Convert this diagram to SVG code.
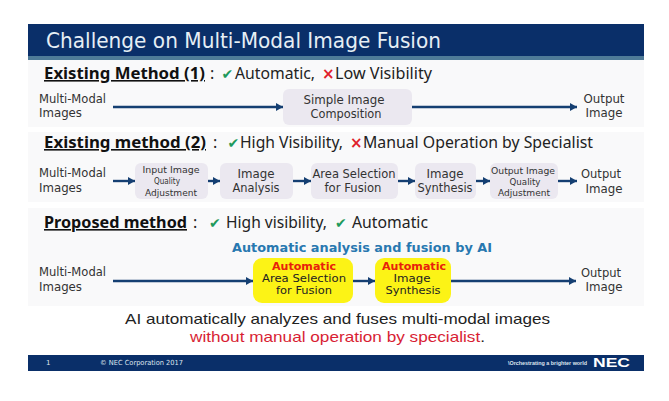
<svg xmlns="http://www.w3.org/2000/svg" width="669" height="401" viewBox="0 0 669 401">
<defs>
<marker id="ah" markerUnits="userSpaceOnUse" markerWidth="8" markerHeight="8" refX="7" refY="4" orient="auto"><path d="M0 0L7 4L0 8z" fill="#153f72"/></marker>
</defs>
<style>
text{font-family:"DejaVu Sans",Verdana,sans-serif;fill:#222}
.h{font-family:"Noto Sans",sans-serif;font-size:16px;font-weight:bold;text-decoration:underline;fill:#111}
.s{font-family:"Noto Sans",sans-serif;font-size:16px}
.sum{font-family:"Liberation Sans",sans-serif;font-size:15px}
.l{font-size:12px;fill:#333}
.m{font-size:12px;text-anchor:middle;fill:#333}
.y2{font-size:10.3px;text-anchor:middle;fill:#222}
.t{font-size:9.5px;text-anchor:middle;fill:#333}
.ok{font-size:14px;fill:#1f9a5c}
.no{font-size:15px;font-weight:bold;fill:#e0202a}
.n{fill:#ebe8f0}
.y{fill:#fcf316}
.r{font-size:10.3px;font-weight:bold;text-anchor:middle;fill:#e8200c}
.c line{stroke:#153f72;stroke-width:2.4;marker-end:url(#ah)}
.band{fill:#f9f9fa}
</style>
<rect width="669" height="401" fill="#fff"/>
<g id="header">
<rect x="28" y="24" width="616" height="32" fill="#0a2f69"/>
<rect x="28" y="56" width="616" height="4" fill="#4f7b98"/>
<text x="46" y="48" font-size="21.5" textLength="395" lengthAdjust="spacingAndGlyphs" style="fill:#e6eef5">Challenge on Multi-Modal Image Fusion</text>
</g>
<rect class="band" x="28" y="60" width="616" height="67"/>
<rect class="band" x="28" y="132" width="616" height="70"/>
<rect class="band" x="28" y="208" width="616" height="98"/>
<g id="row1-heading">
<text class="h" x="44" y="79" textLength="161" lengthAdjust="spacingAndGlyphs">Existing Method (1)</text>
<text class="s" x="210" y="79">:</text>
<text class="ok" x="221.5" y="79">✔</text>
<text class="s" x="235" y="79" textLength="80" lengthAdjust="spacingAndGlyphs">Automatic,</text>
<text class="no" x="322" y="79">×</text>
<text class="s" x="335" y="79" textLength="97" lengthAdjust="spacingAndGlyphs">Low Visibility</text>
</g>
<g id="row2-heading">
<text class="h" x="44" y="148" textLength="162" lengthAdjust="spacingAndGlyphs">Existing method (2)</text>
<text class="s" x="213" y="148">:</text>
<text class="ok" x="227.5" y="148">✔</text>
<text class="s" x="240" y="148" textLength="103" lengthAdjust="spacingAndGlyphs">High Visibility,</text>
<text class="no" x="350" y="148">×</text>
<text class="s" x="363" y="148" textLength="230" lengthAdjust="spacingAndGlyphs">Manual Operation by Specialist</text>
</g>
<g id="row3-heading">
<text class="h" x="44" y="228" textLength="143" lengthAdjust="spacingAndGlyphs">Proposed method</text>
<text class="s" x="193" y="228">:</text>
<text class="ok" x="209" y="228">✔</text>
<text class="s" x="226" y="228" textLength="101" lengthAdjust="spacingAndGlyphs">High visibility,</text>
<text class="ok" x="335" y="228">✔</text>
<text class="s" x="352" y="228" textLength="76" lengthAdjust="spacingAndGlyphs">Automatic</text>
<text x="232" y="252" font-size="13" font-weight="bold" textLength="260" lengthAdjust="spacingAndGlyphs" style="fill:#2878b0">Automatic analysis and fusion by AI</text>
</g>
<g class="c" id="connectors">
<line x1="113" y1="107" x2="283" y2="107"/>
<line x1="412" y1="107" x2="577" y2="107"/>
<line x1="113" y1="181" x2="135" y2="181"/>
<line x1="208" y1="181" x2="220" y2="181"/>
<line x1="293" y1="181" x2="311" y2="181"/>
<line x1="398" y1="181" x2="415" y2="181"/>
<line x1="476" y1="181" x2="490" y2="181"/>
<line x1="558" y1="181" x2="577" y2="181"/>
<line x1="113" y1="281" x2="253" y2="281"/>
<line x1="353" y1="281" x2="375" y2="281"/>
<line x1="451" y1="281" x2="576" y2="281"/>
</g>
<g id="in1"><text class="l" x="39" y="103" textLength="67" lengthAdjust="spacingAndGlyphs">Multi-Modal</text><text class="l" x="39" y="117" textLength="43" lengthAdjust="spacingAndGlyphs">Images</text></g>
<g id="n1"><rect class="n" x="283" y="89" width="129" height="36" rx="6"/><text class="m" x="344" y="104" textLength="81" lengthAdjust="spacingAndGlyphs">Simple Image</text><text class="m" x="346" y="118" textLength="71" lengthAdjust="spacingAndGlyphs">Composition</text></g>
<g id="out1"><text class="m" x="604" y="103" textLength="41" lengthAdjust="spacingAndGlyphs">Output</text><text class="m" x="604" y="117" textLength="37" lengthAdjust="spacingAndGlyphs">Image</text></g>
<g id="in2"><text class="l" x="39" y="177" textLength="67" lengthAdjust="spacingAndGlyphs">Multi-Modal</text><text class="l" x="39" y="192" textLength="43" lengthAdjust="spacingAndGlyphs">Images</text></g>
<g id="n2a"><rect class="n" x="135" y="163" width="73" height="36" rx="6"/><text class="t" x="171" y="173" textLength="57" lengthAdjust="spacingAndGlyphs">Input Image</text><text class="t" x="167" y="184" textLength="26" lengthAdjust="spacingAndGlyphs">Quality</text><text class="t" x="171" y="196" textLength="52" lengthAdjust="spacingAndGlyphs">Adjustment</text></g>
<g id="n2b"><rect class="n" x="220" y="163" width="73" height="36" rx="6"/><text class="m" x="256" y="178" textLength="37" lengthAdjust="spacingAndGlyphs">Image</text><text class="m" x="256" y="192" textLength="47" lengthAdjust="spacingAndGlyphs">Analysis</text></g>
<g id="n2c"><rect class="n" x="311" y="163" width="87" height="36" rx="6"/><text class="m" x="354" y="178" textLength="83" lengthAdjust="spacingAndGlyphs">Area Selection</text><text class="m" x="353" y="192" textLength="57" lengthAdjust="spacingAndGlyphs">for Fusion</text></g>
<g id="n2d"><rect class="n" x="415" y="163" width="61" height="36" rx="6"/><text class="m" x="445" y="178" textLength="37" lengthAdjust="spacingAndGlyphs">Image</text><text class="m" x="445" y="192" textLength="55" lengthAdjust="spacingAndGlyphs">Synthesis</text></g>
<g id="n2e"><rect class="n" x="490" y="163" width="68" height="36" rx="6"/><text class="t" x="523" y="174" textLength="64" lengthAdjust="spacingAndGlyphs">Output Image</text><text class="t" x="525" y="185" textLength="31" lengthAdjust="spacingAndGlyphs">Quality</text><text class="t" x="524" y="196" textLength="52" lengthAdjust="spacingAndGlyphs">Adjustment</text></g>
<g id="out2"><text class="m" x="601" y="178" textLength="40" lengthAdjust="spacingAndGlyphs">Output</text><text class="m" x="604" y="193" textLength="37" lengthAdjust="spacingAndGlyphs">Image</text></g>
<g id="in3"><text class="l" x="39" y="276" textLength="67" lengthAdjust="spacingAndGlyphs">Multi-Modal</text><text class="l" x="39" y="291" textLength="43" lengthAdjust="spacingAndGlyphs">Images</text></g>
<g id="n3a"><rect class="y" x="253" y="258" width="100" height="45" rx="9"/><text class="r" x="304" y="270" textLength="64" lengthAdjust="spacingAndGlyphs">Automatic</text><text class="y2" x="304" y="282" textLength="84" lengthAdjust="spacingAndGlyphs">Area Selection</text><text class="y2" x="304" y="294" textLength="56" lengthAdjust="spacingAndGlyphs">for Fusion</text></g>
<g id="n3b"><rect class="y" x="375" y="258" width="76" height="45" rx="9"/><text class="r" x="414" y="270" textLength="64" lengthAdjust="spacingAndGlyphs">Automatic</text><text class="y2" x="412" y="282" textLength="37" lengthAdjust="spacingAndGlyphs">Image</text><text class="y2" x="413" y="294" textLength="55" lengthAdjust="spacingAndGlyphs">Synthesis</text></g>
<g id="out3"><text class="m" x="601" y="277" textLength="40" lengthAdjust="spacingAndGlyphs">Output</text><text class="m" x="604" y="291" textLength="37" lengthAdjust="spacingAndGlyphs">Image</text></g>
<g id="summary">
<text class="sum" x="125" y="324" textLength="425" lengthAdjust="spacingAndGlyphs">AI automatically analyzes and fuses multi-modal images</text>
<text class="sum" x="190" y="342" textLength="295" lengthAdjust="spacingAndGlyphs"><tspan style="fill:#d81e34">without manual operation by specialist</tspan>.</text>
</g>
<g id="footer">
<rect x="28" y="355" width="616" height="16" fill="#0a2f69"/>
<text x="46" y="365" font-size="7" style="fill:#dfe5ee">1</text>
<text x="100" y="365" font-size="7" textLength="83" lengthAdjust="spacingAndGlyphs" style="fill:#dfe5ee">© NEC Corporation 2017</text>
<text x="508" y="365" font-size="5.2" font-weight="bold" textLength="79" lengthAdjust="spacingAndGlyphs" style="fill:#dfe5ee;font-family:'Liberation Sans',sans-serif">\Orchestrating a brighter world</text>
<text x="593" y="367" font-size="12.5" font-weight="bold" textLength="37" lengthAdjust="spacingAndGlyphs" style="fill:#fff;font-family:'Liberation Sans',sans-serif">NEC</text>
</g>
</svg>
